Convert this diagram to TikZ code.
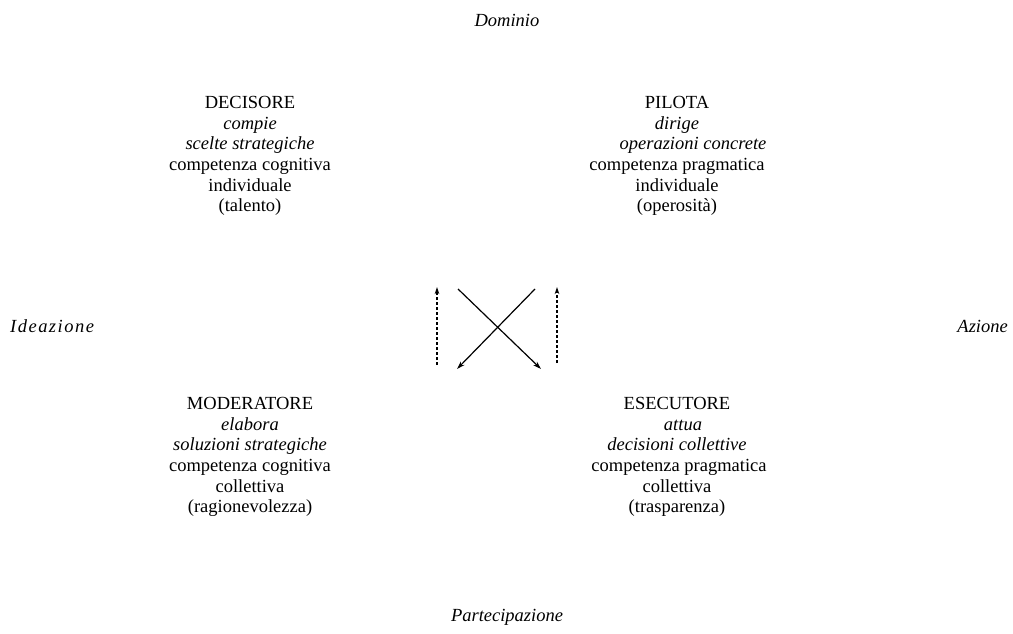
\documentclass[tikz,border=0pt]{standalone}
\usepackage{fontspec}
\setmainfont{Liberation Serif}
\usetikzlibrary{arrows.meta}
\tikzset{
  block/.style={align=center, inner sep=0pt, font=\fontsize{18.5}{20.7}\selectfont},
  axis/.style={inner sep=0pt, font=\fontsize{18.5}{20.7}\selectfont\itshape},
  solidarr/.style={line width=1.2pt, -{Stealth[length=8pt,width=5pt]}},
  dasharr/.style={line width=1.1pt, dash pattern=on 3pt off 2pt, -{Stealth[length=7pt,width=4.5pt]}}
}
\begin{document}
\begin{tikzpicture}[x=1pt,y=-1pt]
\useasboundingbox (0,0) rectangle (1013,634);
\node[axis] (dom) at (507,20) {Dominio};
\node[axis] (par) at (507,617) {Partecipazione};
\node[axis, anchor=west] (ide) at (10,326) {\addfontfeature{LetterSpace=8}Ideazione};
\node[axis, anchor=east] (azi) at (1008,326) {Azione};
\node[block] (dec) at (250,156) {DECISORE\\ \textit{compie}\\ \textit{scelte strategiche}\\ competenza cognitiva\\ individuale\\ (talento)};
\node[block] (pil) at (677,156) {PILOTA\\ \textit{dirige}\\ \hspace*{32pt}\textit{operazioni concrete}\\ competenza pragmatica\\ individuale\\ (operosità)};
\node[block] (mod) at (250,457) {MODERATORE\\ \textit{elabora}\\ \textit{soluzioni strategiche}\\ competenza cognitiva\\ collettiva\\ (ragionevolezza)};
\node[block] (ese) at (677,457) {ESECUTORE\\ \hspace*{12pt}\textit{attua}\\ \textit{decisioni collettive}\hspace*{18pt}\\ \hspace*{4pt}competenza pragmatica\\ collettiva\\ (trasparenza)};
\coordinate (l1) at (437,365);
\coordinate (l2) at (437,287);
\coordinate (r1) at (557,363);
\coordinate (r2) at (557,287);
\coordinate (x1) at (458,289);
\coordinate (x2) at (541,369);
\coordinate (x3) at (535,289);
\coordinate (x4) at (457,369);
\draw[dasharr] (l1) -- (l2);
\draw[dasharr] (r1) -- (r2);
\draw[solidarr] (x1) -- (x2);
\draw[solidarr] (x3) -- (x4);
\end{tikzpicture}
\end{document}
